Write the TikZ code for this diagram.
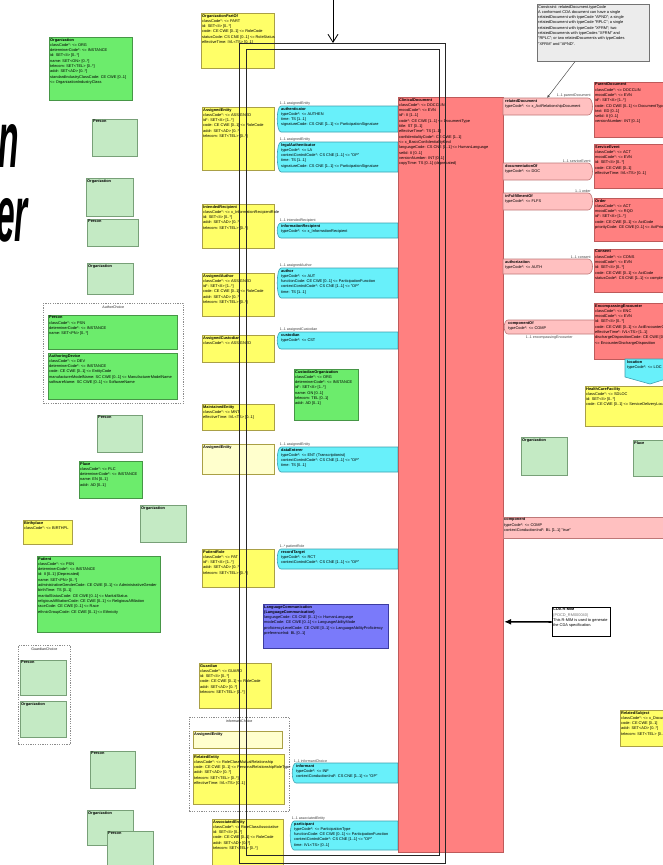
\documentclass[tikz,border=0pt]{standalone}
\usepackage{fontspec}
\setmainfont{Liberation Sans}
\usetikzlibrary{calc,arrows.meta}
\pgfdeclarelayer{back}
\pgfsetlayers{back,main}

\definecolor{entBright}{RGB}{108,236,108}
\definecolor{entBrightLine}{RGB}{70,150,70}
\definecolor{entPale}{RGB}{196,234,196}
\definecolor{entPaleLine}{RGB}{120,160,120}
\definecolor{roleFill}{RGB}{255,255,104}
\definecolor{roleLine}{RGB}{170,160,70}
\definecolor{rolePale}{RGB}{255,255,205}
\definecolor{partFill}{RGB}{104,240,250}
\definecolor{partLine}{RGB}{60,160,175}
\definecolor{actFill}{RGB}{255,128,128}
\definecolor{actLine}{RGB}{190,90,90}
\definecolor{relFill}{RGB}{255,192,192}
\definecolor{relLine}{RGB}{190,120,120}
\definecolor{langFill}{RGB}{122,122,250}
\definecolor{langLine}{RGB}{60,60,160}
\definecolor{noteFill}{RGB}{236,236,236}
\definecolor{assocGray}{RGB}{140,140,140}

\tikzset{
  clsbase/.style={draw, line width=0.6pt, inner sep=0pt, anchor=north west},
  entB/.style={clsbase, fill=entBright, draw=entBrightLine},
  entP/.style={clsbase, fill=entPale, draw=entPaleLine},
  roleB/.style={clsbase, fill=roleFill, draw=roleLine},
  roleP/.style={clsbase, fill=rolePale, draw=roleLine},
  actB/.style={clsbase, fill=actFill, draw=actLine},
  langB/.style={clsbase, fill=langFill, draw=langLine},
  noteB/.style={clsbase, fill=noteFill, draw=black!55},
  memo/.style={clsbase, fill=white, draw=black, line width=0.9pt},
  choice/.style={clsbase, draw=black!45, dash pattern=on 1.2pt off 1.2pt, fill=none},
  partS/.style={fill=partFill, draw=partLine, line width=0.6pt},
  relS/.style={fill=relFill, draw=relLine, line width=0.6pt},
  body/.style={anchor=north west, align=left, inner sep=1pt, font=\fontsize{3.9}{5.3}\selectfont},
  lbl/.style={font=\fontsize{3.6}{4.2}\selectfont, text=black!75, inner sep=0.6pt},
  assoc/.style={draw=assocGray, line width=0.6pt},
  frame/.style={draw=black!85, line width=0.9pt, inner sep=0pt, anchor=north west, fill=none},
  bigword/.style={font=\fontsize{80}{80}\selectfont\bfseries\itshape, inner sep=0pt, xscale=0.42},
}

% class box: name, x1, y1, x2, y2, style, body
\newcommand\clsbox[7]{%
  \node[#6, minimum width={#4-#2}, minimum height={#5-#3}] (#1) at (#2,#3) {};
  \node[body] (#1-t) at (#1.north west) {#7};}

% shape rounded on the left: name, style, x1, y1, x2, y2, body
\newcommand\leftbox[7]{%
  \path[#2] (#3+5,#4) -- (#5,#4) -- (#5,#6) -- (#3+5,#6) .. controls (#3,#6) and (#3,#4) .. (#3+5,#4) -- cycle;
  \node[inner sep=0pt, anchor=north west, minimum width={#5-#3}, minimum height={#6-#4}] (#1) at (#3,#4) {};
  \node[body] (#1-t) at (#3+4,#4) {#7};}

% act relationship rounded on the right: name, x1, y1, x2, y2, body
\newcommand\rightbox[6]{%
  \path[relS] (#2,#3) -- (#4-6,#3) .. controls (#4,#3) and (#4,#5) .. (#4-6,#5) -- (#2,#5) -- cycle;
  \node[inner sep=0pt, anchor=north west, minimum width={#4-#2}, minimum height={#5-#3}] (#1) at (#2,#3) {};
  \node[body] (#1-t) at (#2+1,#3) {#6};}

% choice box: name, x1, y1, x2, y2, title
\newcommand\choicebox[6]{%
  \node[choice, minimum width={#4-#2}, minimum height={#5-#3}] (#1) at (#2,#3) {};
  \node[lbl, anchor=north, text=black!85] (#1-t) at ($(#1.north)+(0,2)$) {#6};}

\begin{document}
\begin{tikzpicture}[x=1pt,y=-1pt]
\useasboundingbox (0,0) rectangle (663,865);
\fill[white] (0,0) rectangle (663,865);
\clip (0,0) rectangle (663,865);

% slide title fragments at the left edge
\node[bigword, anchor=base east] (titleA) at (19,167) {n};
\node[bigword, anchor=base east] (titleB) at (28,241) {er};

% ---------------- left column: entities ----------------
\clsbox{orgB}{49}{37}{132}{100}{entB}{\textbf{Organization}\\classCode*: <= ORG\\determinerCode*: <= INSTANCE\\id: SET<II> [0..*]\\name: SET<ON> [0..*]\\telecom: SET<TEL> [0..*]\\addr: SET<AD> [0..*]\\standardIndustryClassCode: CE CWE [0..1]\\ <= OrganizationIndustryClass}
\clsbox{personA}{92}{119}{137}{156}{entP}{\textbf{Person}}
\clsbox{orgA}{86}{178}{133}{216}{entP}{\textbf{Organization}}
\clsbox{personB}{87}{219}{138}{246}{entP}{\textbf{Person}}
\clsbox{orgC}{87}{263}{133}{294}{entP}{\textbf{Organization}}

\choicebox{authorChoice}{43}{303}{183}{403}{AuthorChoice}
\clsbox{personAuth}{48}{315}{177}{349}{entB}{\textbf{Person}\\classCode*: <= PSN\\determinerCode*: <= INSTANCE\\name: SET<PN> [0..*]}
\clsbox{device}{48}{353}{177}{399}{entB}{\textbf{AuthoringDevice}\\classCode*: <= DEV\\determinerCode*: <= INSTANCE\\code: CE CWE [0..1] <= EntityCode\\manufacturerModelName: SC CWE [0..1] <= ManufacturerModelName\\softwareName: SC CWE [0..1] <= SoftwareName}

\clsbox{personC}{97}{415}{142}{452}{entP}{\textbf{Person}}
\clsbox{custOrg}{294}{369}{358}{420}{entB}{\textbf{CustodianOrganization}\\classCode*: <= ORG\\determinerCode*: <= INSTANCE\\id*: SET<II> [1..*]\\name: ON [0..1]\\telecom: TEL [0..1]\\addr: AD [0..1]}

\clsbox{place}{79}{461}{142}{498}{entB}{\textbf{Place}\\classCode*: <= PLC\\determinerCode*: <= INSTANCE\\name: EN [0..1]\\addr: AD [0..1]}
\clsbox{orgD}{140}{505}{186}{542}{entP}{\textbf{Organization}}
\clsbox{birthplace}{23}{520}{72}{544}{roleB}{\textbf{Birthplace}\\classCode*: <= BIRTHPL}
\clsbox{patient}{37}{556}{160}{632}{entB}{\textbf{Patient}\\classCode*: <= PSN\\determinerCode*: <= INSTANCE\\id: II [0..1] (Deprecated)\\name: SET<PN> [0..*]\\administrativeGenderCode: CE CWE [0..1] <= AdministrativeGender\\birthTime: TS [0..1]\\maritalStatusCode: CE CWE [0..1] <= MaritalStatus\\religiousAffiliationCode: CE CWE [0..1] <= ReligiousAffiliation\\raceCode: CE CWE [0..1] <= Race\\ethnicGroupCode: CE CWE [0..1] <= Ethnicity}

\choicebox{guardChoice}{18}{645}{70}{744}{GuardianChoice}
\clsbox{personG}{20}{660}{66}{695}{entP}{\textbf{Person}}
\clsbox{orgG}{20}{701}{66}{737}{entP}{\textbf{Organization}}
\clsbox{personR}{90}{751}{135}{788}{entP}{\textbf{Person}}
\clsbox{orgS}{87}{810}{133}{845}{entP}{\textbf{Organization}}
\clsbox{personS}{107}{831}{153}{872}{entP}{\textbf{Person}}

% ---------------- roles ----------------
\clsbox{orgPart}{201}{13}{274}{68}{roleB}{\textbf{OrganizationPartOf}\\classCode*: <= PART\\id: SET<II> [0..*]\\code: CE CWE [0..1] <= RoleCode\\statusCode: CS CNE [0..1] <= RoleStatus\\effectiveTime: IVL<TS> [0..1]}
\clsbox{assignedEnt}{202}{107}{274}{170}{roleB}{\textbf{AssignedEntity}\\classCode*: <= ASSIGNED\\id*: SET<II> [1..*]\\code: CE CWE [0..1] <= RoleCode\\addr: SET<AD> [0..*]\\telecom: SET<TEL> [0..*]}
\clsbox{intRecip}{202}{204}{274}{248}{roleB}{\textbf{IntendedRecipient}\\classCode*: <= x\_InformationRecipientRole\\id: SET<II> [0..*]\\addr: SET<AD> [0..*]\\telecom: SET<TEL> [0..*]}
\clsbox{assignedAuth}{202}{273}{274}{316}{roleB}{\textbf{AssignedAuthor}\\classCode*: <= ASSIGNED\\id*: SET<II> [1..*]\\code: CE CWE [0..1] <= RoleCode\\addr: SET<AD> [0..*]\\telecom: SET<TEL> [0..*]}
\clsbox{assignedCust}{202}{335}{274}{362}{roleB}{\textbf{AssignedCustodian}\\classCode*: <= ASSIGNED}
\clsbox{maintained}{202}{404}{274}{430}{roleB}{\textbf{MaintainedEntity}\\classCode*: <= MNT\\effectiveTime: IVL<TS> [0..1]}
\clsbox{enterEnt}{202}{444}{274}{474}{roleP}{\textbf{AssignedEntity}}
\clsbox{patientRole}{202}{549}{274}{587}{roleB}{\textbf{PatientRole}\\classCode*: <= PAT\\id*: SET<II> [1..*]\\addr: SET<AD> [0..*]\\telecom: SET<TEL> [0..*]}
\clsbox{guardian}{199}{663}{271}{708}{roleB}{\textbf{Guardian}\\classCode*: <= GUARD\\id: SET<II> [0..*]\\code: CE CWE [0..1] <= RoleCode\\addr: SET<AD> [0..*]\\telecom: SET<TEL> [0..*]}

\choicebox{informChoice}{189}{717}{289}{811}{informantChoice}
\clsbox{informEnt}{193}{731}{282}{748}{roleP}{\textbf{AssignedEntity}}
\clsbox{relatedEnt}{193}{754}{284}{804}{roleB}{\textbf{RelatedEntity}\\classCode*: <= RoleClassMutualRelationship\\code: CE CWE [0..1] <= PersonalRelationshipRoleType\\addr: SET<AD> [0..*]\\telecom: SET<TEL> [0..*]\\effectiveTime: IVL<TS> [0..1]}
\clsbox{assocEnt}{212}{819}{283}{872}{roleB}{\textbf{AssociatedEntity}\\classCode*: <= RoleClassAssociative\\id: SET<II> [0..*]\\code: CE CWE [0..1] <= RoleCode\\addr: SET<AD> [0..*]\\telecom: SET<TEL> [0..*]}

\clsbox{langComm}{263}{604}{388}{648}{langB}{\textbf{LanguageCommunication}\\\textbf{(LanguageCommunication)}\\languageCode: CS CNE [0..1] <= HumanLanguage\\modeCode: CE CWE [0..1] <= LanguageAbilityMode\\proficiencyLevelCode: CE CWE [0..1] <= LanguageAbilityProficiency\\preferenceInd: BL [0..1]}

% ---------------- participations ----------------
\leftbox{authen}{partS}{276}{106}{398}{132}{\textbf{authenticator}\\typeCode*: <= AUTHEN\\time: TS [1..1]\\signatureCode: CS CNE [1..1] <= ParticipationSignature}
\leftbox{legalAuthen}{partS}{276}{142}{398}{172}{\textbf{legalAuthenticator}\\typeCode*: <= LA\\contextControlCode*: CS CNE [1..1] <= "OP"\\time: TS [1..1]\\signatureCode: CS CNE [1..1] <= ParticipationSignature}
\leftbox{infoRecip}{partS}{276}{223}{398}{238}{\textbf{informationRecipient}\\typeCode*: <= x\_InformationRecipient}
\leftbox{author}{partS}{276}{268}{398}{298}{\textbf{author}\\typeCode*: <= AUT\\functionCode: CE CWE [0..1] <= ParticipationFunction\\contextControlCode*: CS CNE [1..1] <= "OP"\\time: TS [1..1]}
\leftbox{custodian}{partS}{276}{332}{398}{349}{\textbf{custodian}\\typeCode*: <= CST}
\leftbox{dataEnterer}{partS}{276}{447}{398}{472}{\textbf{dataEnterer}\\typeCode*: <= ENT (Transcriptionist)\\contextControlCode*: CS CNE [1..1] <= "OP"\\time: TS [0..1]}
\leftbox{recordTarget}{partS}{276}{549}{398}{569}{\textbf{recordTarget}\\typeCode*: <= RCT\\contextControlCode*: CS CNE [1..1] <= "OP"}
\leftbox{informant}{partS}{291}{763}{398}{783}{\textbf{informant}\\typeCode*: <= INF\\contextConductionInd*: CS CNE [1..1] <= "OP"}
\leftbox{participant}{partS}{289}{821}{398}{850}{\textbf{participant}\\typeCode*: <= ParticipationType\\functionCode: CE CWE [0..1] <= ParticipationFunction\\contextControlCode*: CS CNE [1..1] <= "OP"\\time: IVL<TS> [0..1]}

\node[lbl, anchor=south west] (authen-l) at (279,106) {1..1 assignedEntity};
\node[lbl, anchor=south west] (legalAuthen-l) at (279,142) {1..1 assignedEntity};
\node[lbl, anchor=south west] (infoRecip-l) at (279,223) {1..1 intendedRecipient};
\node[lbl, anchor=south west] (author-l) at (279,268) {1..1 assignedAuthor};
\node[lbl, anchor=south west] (custodian-l) at (279,332) {1..1 assignedCustodian};
\node[lbl, anchor=south west] (dataEnterer-l) at (279,447) {1..1 assignedEntity};
\node[lbl, anchor=south west] (recordTarget-l) at (279,549) {1..* patientRole};
\node[lbl, anchor=south west] (informant-l) at (293,763) {1..1 informantChoice};
\node[lbl, anchor=south west] (participant-l) at (291,821) {1..1 associatedEntity};

% ---------------- the document act ----------------
\clsbox{clinDoc}{398}{97}{503}{852}{actB}{\textbf{ClinicalDocument}\\classCode*: <= DOCCLIN\\moodCode*: <= EVN\\id*: II [1..1]\\code*: CE CWE [1..1] <= DocumentType\\title: ST [0..1]\\effectiveTime*: TS [1..1]\\confidentialityCode*: CE CWE [1..1]\\ <= x\_BasicConfidentialityKind\\languageCode: CS CNE [0..1] <= HumanLanguage\\setId: II [0..1]\\versionNumber: INT [0..1]\\copyTime: TS [0..1] (deprecated)}

% ---------------- right column ----------------
\clsbox{constraintNote}{537}{4}{649}{61}{noteB}{Constraint: relatedDocument.typeCode\\A conformant CDA document can have a single\\relatedDocument with typeCode "APND"; a single\\relatedDocument with typeCode "RPLC"; a single\\relatedDocument with typeCode "XFRM"; two\\relatedDocuments with typeCodes "XFRM" and\\"RPLC"; or two relatedDocuments with typeCodes\\"XFRM" and "APND".}

\rightbox{relDoc}{503}{98}{594}{115}{\textbf{relatedDocument}\\typeCode*: <= x\_ActRelationshipDocument}
\clsbox{parentDoc}{594}{82}{672}{137}{actB}{\textbf{ParentDocument}\\classCode*: <= DOCCLIN\\moodCode*: <= EVN\\id*: SET<II> [1..*]\\code: CD CWE [0..1] <= DocumentType\\text: ED [0..1]\\setId: II [0..1]\\versionNumber: INT [0..1]}
\rightbox{docOf}{503}{163}{594}{180}{\textbf{documentationOf}\\typeCode*: <= DOC}
\clsbox{serviceEvent}{594}{144}{672}{188}{actB}{\textbf{ServiceEvent}\\classCode*: <= ACT\\moodCode*: <= EVN\\id: SET<II> [0..*]\\code: CE CWE [0..1]\\effectiveTime: IVL<TS> [0..1]}
\rightbox{fulfill}{503}{193}{594}{210}{\textbf{inFulfillmentOf}\\typeCode*: <= FLFS}
\clsbox{order}{594}{198}{672}{241}{actB}{\textbf{Order}\\classCode*: <= ACT\\moodCode*: <= RQO\\id*: SET<II> [1..*]\\code: CE CWE [0..1] <= ActCode\\priorityCode: CE CWE [0..1] <= ActPriority}
\rightbox{authz}{503}{259}{594}{274}{\textbf{authorization}\\typeCode*: <= AUTH}
\clsbox{consent}{594}{249}{672}{292}{actB}{\textbf{Consent}\\classCode*: <= CONS\\moodCode*: <= EVN\\id: SET<II> [0..*]\\code: CE CWE [0..1] <= ActCode\\statusCode*: CS CNE [1..1] <= completed}
\leftbox{compOf}{relS}{503}{320}{595}{334}{\textbf{componentOf}\\typeCode*: <= COMP}
\clsbox{encounter}{594}{303}{672}{359}{actB}{\textbf{EncompassingEncounter}\\classCode*: <= ENC\\moodCode*: <= EVN\\id: SET<II> [0..*]\\code: CE CWE [0..1] <= ActEncounterCode\\effectiveTime*: IVL<TS> [1..1]\\dischargeDispositionCode: CE CWE [0..1]\\ <= EncounterDischargeDisposition}

% location participation, pointed at the bottom
\path[partS] (625,359) -- (672,359) -- (672,377) -- (650,384) -- (625,377) -- cycle;
\node[inner sep=0pt, anchor=north west, minimum width=47, minimum height=24] (location) at (625,359) {};
\node[body] (location-t) at (626,359) {\textbf{location}\\typeCode*: <= LOC};

\clsbox{facility}{585}{386}{672}{426}{roleB}{\textbf{HealthCareFacility}\\classCode*: <= SDLOC\\id: SET<II> [0..*]\\code: CE CWE [0..1] <= ServiceDeliveryLocationRoleType}
\clsbox{orgR}{521}{437}{567}{475}{entP}{\textbf{Organization}}
\clsbox{placeR}{633}{440}{675}{476}{entP}{\textbf{Place}}

% component band to the structured body
\node[clsbase, fill=relFill, draw=relLine, minimum width=172, minimum height=21] (component) at (503,517) {};
\node[body] (component-t) at (503,517) {\textbf{component}\\typeCode*: <= COMP\\contextConductionInd*: BL [1..1] "true"};

\clsbox{rmimNote}{552}{607}{610}{636}{memo}{\textbf{CDA R-MIM}\\{\color{black!55}(POCD\_RM000040)}\\This R-MIM is used to generate\\the CDA specification.}

\clsbox{relSubject}{620}{710}{675}{746}{roleB}{\textbf{RelatedSubject}\\classCode*: <= x\_DocumentSubject\\code: CE CWE [0..1]\\addr: SET<AD> [0..*]\\telecom: SET<TEL> [0..*]}
\coordinate (subjectEnd) at (672,764);

% ---------------- associations (drawn behind the boxes) ----------------
\begin{pgfonlayer}{back}
\draw[assoc] ($(orgB.north east)+(0,2)$) -- ($(orgPart.north west)+(0,5)$)
  node[lbl, pos=0, anchor=south west] (lblWhole) {0..1 wholeOrganization};
\draw[assoc] ($(orgB.south east)+(0,-16)$) -- ($(orgPart.south west)+(0,-8)$)
  node[lbl, pos=0.55, anchor=south] (lblPartOf) {0..* asOrganizationPartOf};
\draw[assoc] (orgB.south east) -- ($(assignedEnt.north west)+(0,4)$)
  node[lbl, pos=0, anchor=north west] (lblRepOrg) {1..1 representedOrganization};
\draw[assoc] (personA.south east) -- ($(assignedEnt.south west)+(0,-7)$)
  node[lbl, pos=0, anchor=south west] (lblAssPer) {0..1 assignedPerson};
\draw[assoc] ($(orgA.north east)+(0,2)$) -- ($(intRecip.north west)+(0,3)$)
  node[lbl, pos=0, anchor=south west] (lblRecOrg) {0..1 receivedOrganization};
\draw[assoc] ($(personB.south east)+(0,-10)$) -- ($(intRecip.south west)+(0,-1)$)
  node[lbl, pos=0, anchor=south west] (lblInfoRec) {0..1 informationRecipient};
\draw[assoc] ($(orgC.north east)+(0,2)$) -- ($(assignedAuth.north west)+(0,4)$)
  node[lbl, pos=0, anchor=south west] (lblRepOrg2) {0..1 representedOrganization};
\draw[assoc] ($(authorChoice.north east)+(0,28)$) -- ($(assignedAuth.south west)+(0,6)$)
  node[lbl, pos=0, anchor=south west] (lblAuthChoice) {0..1 assignedAuthorChoice};
\draw[assoc] ($(device.north east)+(0,23)$) -- ($(maintained.north west)+(1,0)$)
  node[lbl, pos=1, anchor=north east] (lblMaint) {0..* asMaintainedEntity};
\draw[assoc] ($(personC.north east)+(0,3)$) -- ($(maintained.south west)+(0,-3)$)
  node[lbl, pos=0, anchor=south west] (lblMaintPer) {0..1 maintainingPerson};
\draw[assoc] ($(assignedCust.south west)+(29,0)$) .. controls (245,372) .. ($(custOrg.north west)+(0,10)$)
  node[lbl, pos=1, anchor=north east] (lblCustOrg) {1..1 representedCustodianOrganization};
\draw[assoc] ($(place.south west)+(2,0)$) -- ($(birthplace.north east)+(-2,0)$)
  node[lbl, pos=0, anchor=north east] (lblPlace) {1..1 place};
\draw[assoc] ($(birthplace.south east)+(0,-3)$) -- ($(patient.north west)+(62,0)$)
  node[lbl, pos=0, anchor=south west] (lblBirth) {0..1 birthplace};
\draw[assoc] ($(patient.north east)+(0,3)$) -- ($(patientRole.south west)+(0,-9)$)
  node[lbl, pos=0, anchor=south west] (lblPatient) {0..1 patient};
\draw[assoc] (orgD.south east) -- ($(patientRole.north west)+(0,4)$)
  node[lbl, pos=0, anchor=south west] (lblProvOrg) {0..1 providerOrganization};
\draw[assoc] ($(patient.south east)+(0,-20)$) -- (211,612) -- (211,636) -- ($(langComm.south west)+(0,-12)$)
  node[lbl, pos=0.35, anchor=south] (lblLang) {0..* languageCommunication};
\draw[assoc] ($(patient.south west)+(75,0)$) -- ($(guardian.north west)+(0,3)$)
  node[lbl, pos=1, anchor=north east] (lblGuard) {0..* guardian};
\draw[assoc] ($(guardChoice.south east)+(0,-11)$) -- ($(guardian.south west)+(0,-3)$)
  node[lbl, pos=0, anchor=north west] (lblGuardCh) {1..1 guardianChoice};
\draw[assoc] (personR.south east) -- ($(relatedEnt.south west)+(0,-6)$)
  node[lbl, pos=0, anchor=south west] (lblRelPer) {0..1 relatedPerson};
\draw[assoc] (orgS.north east) -- ($(assocEnt.north west)+(0,3)$)
  node[lbl, pos=0, anchor=south west] (lblScope) {0..1 scopingOrganization};
\draw[assoc] ($(personS.north east)+(0,32)$) -- ($(assocEnt.north west)+(0,39)$)
  node[lbl, pos=0, anchor=south west] (lblAssocPer) {0..1 associatedPerson};
\draw[assoc] ($(facility.south west)+(0,-2)$) -- (orgR.north east)
  node[lbl, pos=1, anchor=south west] (lblSvcOrg) {0..1 serviceProviderOrganization};
\draw[assoc] ($(facility.south east)+(-22,0)$) -- ($(placeR.north west)+(12,0)$)
  node[lbl, pos=1, anchor=south west] (lblLoc) {0..1 location};
\draw[assoc] ($(relSubject.south west)+(19,0)$) -- (subjectEnd);
\end{pgfonlayer}

\node[lbl, anchor=south east] (relDoc-l) at ($(relDoc.north east)+(-3,0)$) {1..1 parentDocument};
\node[lbl, anchor=south east] (docOf-l) at ($(docOf.north east)+(-3,0)$) {1..1 serviceEvent};
\node[lbl, anchor=south east] (fulfill-l) at ($(fulfill.north east)+(-3,0)$) {1..1 order};
\node[lbl, anchor=south east] (authz-l) at ($(authz.north east)+(-3,0)$) {1..1 consent};
\node[lbl, anchor=north] (compOf-l) at ($(compOf.south)+(0,0.5)$) {1..1 encompassingEncounter};

\draw[draw=black!70, line width=0.5pt, -{Latex[length=3pt,width=2.5pt]}] ($(constraintNote.south west)+(38,0)$) -- ($(relDoc.north west)+(44,0)$);
% pointer from the R-MIM memo to the document act
\draw[draw=black, line width=1.6pt, -{Latex[length=7pt,width=6pt]}] ($(rmimNote.west)+(-0.5,0)$) -- ($(clinDoc.east)+(0.5,147)$);

% ---------------- the double frame and entry point ----------------
\node[frame, minimum width=206, minimum height=820] (outerFrame) at (239,43) {};
\node[frame, minimum width=193, minimum height=806] (innerFrame) at (246,49) {};
\coordinate (entry) at (333,-2);
\draw[line width=0.8pt, -{Straight Barb[length=8pt,width=10pt]}] (entry) -- (entry |- outerFrame.north);
\end{tikzpicture}
\end{document}
